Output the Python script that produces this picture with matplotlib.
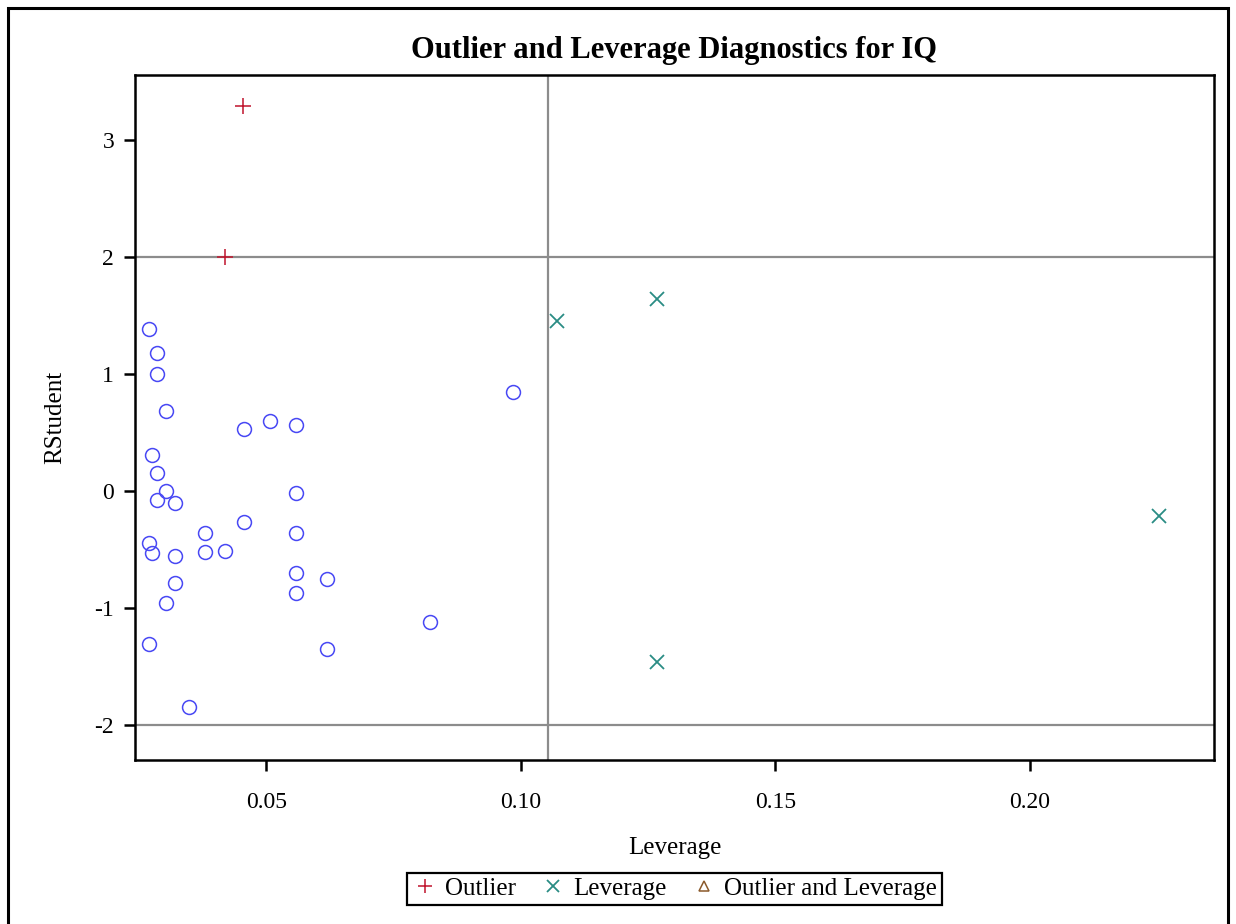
import matplotlib
matplotlib.use("Agg")
import matplotlib.pyplot as plt
from matplotlib.patches import Rectangle

plt.rcParams['font.family'] = ['Liberation Serif', 'DejaVu Serif']
plt.rcParams['axes.unicode_minus'] = False

# ordinary observations (leverage, rstudent)
normal_lev = [0.0270, 0.0285, 0.0285, 0.0303, 0.0457, 0.0508, 0.0559, 0.0985,
              0.0275, 0.0285, 0.0303, 0.0285, 0.0320, 0.0559, 0.0457, 0.0379,
              0.0559, 0.0270, 0.0275, 0.0320, 0.0379, 0.0419, 0.0559, 0.0619,
              0.0320, 0.0559, 0.0303, 0.0822, 0.0270, 0.0619, 0.0348]
normal_rst = [1.384, 1.178, 0.998, 0.685, 0.532, 0.596, 0.564, 0.852,
              0.308, 0.155, 0.000, -0.078, -0.098, -0.012, -0.265, -0.354,
              -0.354, -0.440, -0.529, -0.553, -0.518, -0.509, -0.696, -0.751,
              -0.783, -0.872, -0.961, -1.117, -1.304, -1.350, -1.847]

# flagged observations
outlier_lev = [0.0455, 0.0418]
outlier_rst = [3.292, 2.007]
leverage_lev = [0.1072, 0.1267, 0.1267, 0.2254]
leverage_rst = [1.452, 1.641, -1.464, -0.213]
both_lev = []
both_rst = []

rst_cutoff = 2.0
lev_cutoff = 0.1053

xticks = [0.05, 0.10, 0.15, 0.20]
yticks = [-2, -1, 0, 1, 2, 3]

fig = plt.figure(figsize=(12.36, 9.24), dpi=100)
ax = fig.add_axes([0.1092, 0.1775, 0.873, 0.7413])

ax.axhline(rst_cutoff, color='#8c8c8c', lw=1.6, zorder=1)
ax.axhline(-rst_cutoff, color='#8c8c8c', lw=1.6, zorder=1)
ax.axvline(lev_cutoff, color='#8c8c8c', lw=1.6, zorder=1)

ax.plot(normal_lev, normal_rst, 'o', ms=10, mfc='none', mec='#4848f4', mew=1.1, zorder=3)
ax.plot(outlier_lev, outlier_rst, '+', ms=12, color='#c0142c', mew=1.1, zorder=3, label='Outlier')
ax.plot(leverage_lev, leverage_rst, 'x', ms=10, color='#2a8c84', mew=1.3, zorder=3, label='Leverage')
ax.plot(both_lev, both_rst, '^', ms=9, mfc='none', mec='#8b5a2b', mew=1.1, zorder=3,
        label='Outlier and Leverage')

ax.set_xlim(0.0242, 0.2362)
ax.set_ylim(-2.30, 3.56)
ax.set_xticks(xticks)
ax.set_xticklabels(['%.2f' % t for t in xticks])
ax.set_yticks(yticks)
ax.tick_params(labelsize=17, width=1.8, length=8, direction='out')
ax.tick_params(axis='x', pad=15)
ax.tick_params(axis='y', pad=7)
for sp in ax.spines.values():
    sp.set_linewidth(1.8)

ax.set_xlabel('Leverage', fontsize=18, labelpad=17)
ax.set_ylabel('RStudent', fontsize=18, labelpad=20)
ax.set_title('Outlier and Leverage Diagnostics for IQ', fontsize=22, fontweight='bold', pad=12)

leg = fig.legend(loc='center', bbox_to_anchor=(0.546, 0.038), ncol=3, fontsize=18,
                 frameon=True, fancybox=False, edgecolor='black', framealpha=1,
                 handletextpad=0.3, columnspacing=1.0, borderpad=0.2, handlelength=1.0,
                 markerscale=0.8)
leg.get_frame().set_linewidth(1.6)

# outer border of the graph area
fig.patches.append(Rectangle((8 / 1236, -0.05), 1220 / 1236, 1.05 - 8 / 924,
                             transform=fig.transFigure, fill=False, lw=2.2,
                             edgecolor='black'))

fig.savefig('out.png', dpi=100)
